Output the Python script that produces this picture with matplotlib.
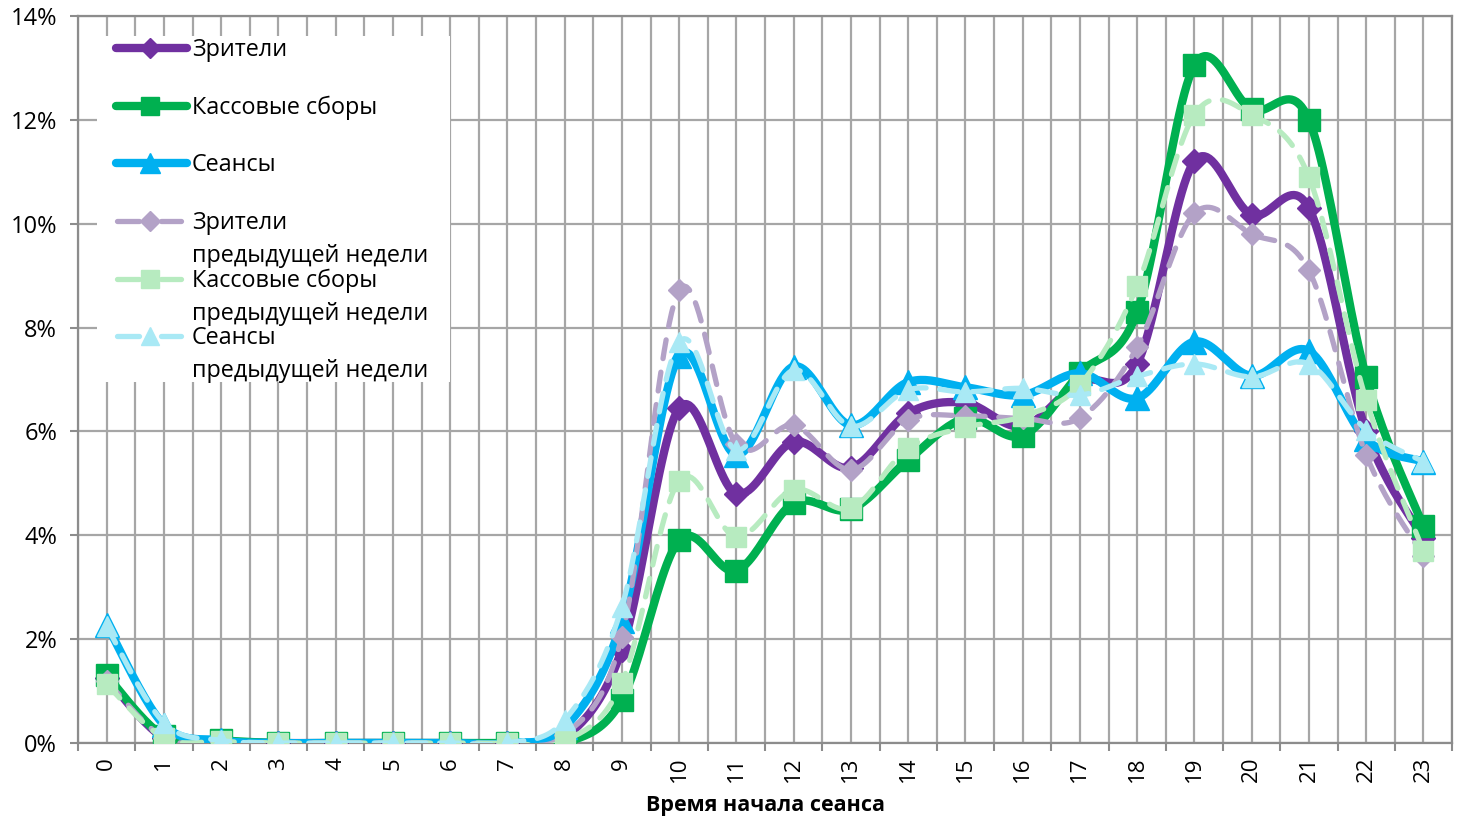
import numpy as np
import matplotlib
matplotlib.use("Agg")
import matplotlib.pyplot as plt
from matplotlib.lines import Line2D
from matplotlib.patches import Rectangle

plt.rcParams['font.family'] = ['Open Sans', 'DejaVu Sans']

hours = list(range(24))
viewers = [1.25, 0.1, 0.03, 0, 0, 0, 0, 0, 0.1, 1.8, 6.45, 4.8, 5.8, 5.3, 6.35, 6.55, 6.1, 6.96, 7.3, 11.2, 10.17, 10.3, 6.0, 3.95]
boxoffice = [1.3, 0.13, 0.05, 0, 0, 0, 0, 0, 0.0, 0.83, 3.9, 3.32, 4.62, 4.5, 5.45, 6.25, 5.92, 7.12, 8.3, 13.05, 12.2, 12.0, 7.05, 4.17]
sessions = [2.28, 0.35, 0.05, 0, 0, 0, 0, 0, 0.3, 2.35, 7.45, 5.55, 7.25, 6.12, 6.95, 6.85, 6.7, 7.12, 6.64, 7.73, 7.07, 7.55, 5.85, 5.42]
viewers_prev = [1.2, 0.1, 0.02, 0, 0, 0, 0, 0, 0.15, 2.05, 8.72, 5.75, 6.12, 5.26, 6.22, 6.3, 6.25, 6.26, 7.62, 10.2, 9.8, 9.1, 5.55, 3.6]
boxoffice_prev = [1.13, 0.1, 0.03, 0, 0, 0, 0, 0, 0.04, 1.16, 5.05, 3.97, 4.88, 4.52, 5.68, 6.08, 6.29, 6.9, 8.8, 12.1, 12.1, 10.9, 6.6, 3.7]
sessions_prev = [2.25, 0.39, 0.05, 0, 0, 0, 0, 0, 0.44, 2.62, 7.72, 5.64, 7.18, 6.1, 6.8, 6.76, 6.83, 6.7, 7.06, 7.3, 7.05, 7.3, 6.03, 5.42]

labels = ["Зрители", "Кассовые сборы", "Сеансы",
          "Зрители\nпредыдущей недели", "Кассовые сборы\nпредыдущей недели", "Сеансы\nпредыдущей недели"]
xticklabels = [str(h) for h in hours]
yticks = [0, 2, 4, 6, 8, 10, 12, 14]


def smooth(x, y, n=24):
    x = np.asarray(x, float)
    y = np.asarray(y, float)
    px = np.concatenate([[x[0]], x, [x[-1]]])
    py = np.concatenate([[y[0]], y, [y[-1]]])
    t = np.linspace(0, 1, n)
    xs, ys = [], []
    for i in range(len(x) - 1):
        j = i + 1
        p0x, p0y = px[j], py[j]
        p3x, p3y = px[j + 1], py[j + 1]
        p1x = p0x + (px[j + 1] - px[j - 1]) / 6
        p1y = p0y + (py[j + 1] - py[j - 1]) / 6
        p2x = p3x - (px[j + 2] - px[j]) / 6
        p2y = p3y - (py[j + 2] - py[j]) / 6
        b0 = (1 - t) ** 3
        b1 = 3 * (1 - t) ** 2 * t
        b2 = 3 * (1 - t) * t ** 2
        b3 = t ** 3
        xs.append(b0 * p0x + b1 * p1x + b2 * p2x + b3 * p3x)
        ys.append(b0 * p0y + b1 * p1y + b2 * p2y + b3 * p3y)
    return np.concatenate(xs), np.concatenate(ys)


W, H = 1461, 819
fig = plt.figure(figsize=(W / 100, H / 100), dpi=100)
L, R, T, B = 78, 1452, 16, 743
ax = fig.add_axes([L / W, 1 - B / H, (R - L) / W, (B - T) / H])

purple, green, blue = '#7030A0', '#00B050', '#00B0F0'
lpurple, lgreen, lblue = '#B3A2C7', '#B7EBC0', '#A9E9F5'

series = [
    (viewers, purple, 'D', 12.5, '-', 6.0),
    (boxoffice, green, 's', 16, '-', 6.0),
    (sessions, blue, '^', 17, '-', 6.0),
    (viewers_prev, lpurple, 'D', 11.5, '--', 3.8),
    (boxoffice_prev, lgreen, 's', 14.5, '--', 3.8),
    (sessions_prev, lblue, '^', 15, '--', 3.8),
]

z = 3
for vals, col, mk, ms, ls, lw in series:
    sx, sy = smooth(hours, vals)
    if ls == '-':
        ax.plot(sx, sy, color=col, lw=lw, solid_capstyle='round', solid_joinstyle='round', zorder=z)
    else:
        ax.plot(sx, sy, color=col, lw=lw, dashes=(3.6, 2.6), dash_capstyle='round', zorder=z)
    ax.plot(hours, vals, linestyle='none', marker=mk, ms=ms, color=col, mec=col, zorder=z + 0.5)
    z += 1

ax.set_xlim(-0.5, 23.5)
ax.set_ylim(0, 14)
ax.set_xticks(hours)
ax.set_xticklabels(xticklabels, rotation=90, fontsize=16)
ax.set_xticks(np.arange(-0.5, 24, 1), minor=True)
ax.set_yticks(yticks)
ax.set_yticklabels([f"{v}%" for v in yticks], fontsize=17)
ax.tick_params(axis='x', which='major', length=0, pad=10)
ax.tick_params(axis='x', which='minor', length=6, width=1.5, color='#8C8C8C', direction='out')
ax.tick_params(axis='y', length=6, width=1.5, color='#8C8C8C', pad=9)
ax.grid(True, which='both', axis='x', color='#A6A6A6', lw=1.6, zorder=0)
ax.grid(True, which='major', axis='y', color='#A6A6A6', lw=1.6, zorder=0)
ax.set_axisbelow(True)
for s in ax.spines.values():
    s.set_color('#8C8C8C')
    s.set_linewidth(1.6)
ax.set_xlabel("Время начала сеанса", fontsize=15.5, fontweight='bold', labelpad=9)

# legend (drawn manually to reproduce the spreadsheet layout)
def axc(px, py):
    return ((px - L) / (R - L), (B - py) / (B - T))

x0, y0 = axc(97, 382)
x1, y1 = axc(450, 36)
ax.add_patch(Rectangle((x0, y0), x1 - x0, y1 - y0, transform=ax.transAxes,
                       facecolor='white', edgecolor='none', zorder=20))
rows_y = [48, 106, 163, 221, 279, 336]
for (vals, col, mk, ms, ls, lw), lab, ry in zip(series, labels, rows_y):
    _, yy = axc(0, ry)
    if ls == '-':
        xa, _ = axc(116, 0)
        xb, _ = axc(187, 0)
        ax.add_line(Line2D([xa, xb], [yy, yy], transform=ax.transAxes, color=col, lw=lw,
                           solid_capstyle='round', zorder=21))
    else:
        for a, b in [(117, 139), (161, 181)]:
            xa, _ = axc(a, 0)
            xb, _ = axc(b, 0)
            ax.add_line(Line2D([xa, xb], [yy, yy], transform=ax.transAxes, color=col, lw=lw,
                               solid_capstyle='round', zorder=21))
    xm, _ = axc(150, 0)
    ax.add_line(Line2D([xm], [yy], transform=ax.transAxes, color=col, marker=mk,
                       ms=ms * 0.85, mec=col, linestyle='none', zorder=22))
    xt, _ = axc(192, 0)
    for k, line in enumerate(lab.split("\n")):
        _, yb = axc(0, ry + 8 + 33 * k)
        ax.text(xt, yb, line, transform=ax.transAxes, fontsize=16.8, va='baseline',
                ha='left', zorder=23)

fig.savefig("out.png", dpi=100)
